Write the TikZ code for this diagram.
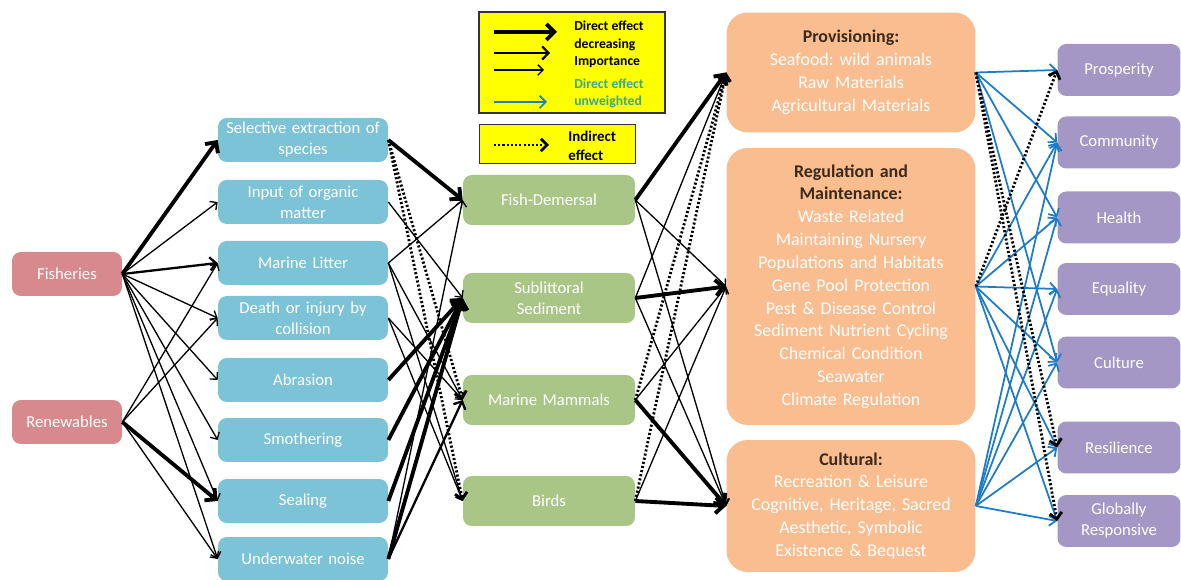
\documentclass[tikz,border=0pt]{standalone}
\usepackage{fontspec}
\setmainfont{Carlito}
\frenchspacing
\usetikzlibrary{arrows.meta,positioning}
\definecolor{hred}{HTML}{D8898D}
\definecolor{hblue}{HTML}{7DC3D7}
\definecolor{hgreen}{HTML}{A9C687}
\definecolor{horng}{HTML}{F9BD8F}
\definecolor{hpurp}{HTML}{A597C5}
\definecolor{hline}{HTML}{1E7BC6}
\definecolor{hteal}{HTML}{3CA88C}
\definecolor{hyell}{HTML}{FFFF00}
\definecolor{htitle}{HTML}{3B2A1C}

\begin{document}
\begin{tikzpicture}[x=0.02cm, y=-0.02cm]
  \useasboundingbox (0,0) rectangle (1181,580);

  \tikzset{
    box/.style = {rounded corners=5pt, text=white, align=center, inner sep=0pt,
                  font=\fontsize{9.5}{12}\selectfont},
    src/.style = {box, fill=hred, minimum width=2.2cm, minimum height=0.88cm},
    press/.style = {box, fill=hblue, minimum width=3.4cm, minimum height=0.88cm, text width=3.2cm},
    comp/.style = {box, fill=hgreen, minimum width=3.44cm, minimum height=1cm, text width=3.2cm},
    serv/.style = {box, fill=horng, rounded corners=12pt, minimum width=4.98cm, text width=4.7cm,
                   font=\fontsize{10.2}{13}\selectfont},
    well/.style = {box, fill=hpurp, minimum width=2.46cm, minimum height=1.04cm, text width=2.3cm},
    legbox/.style = {draw=black!80, line width=1pt, fill=hyell},
    legtxt/.style = {anchor=west, align=left, inner sep=0pt, font=\bfseries\fontsize{7.8}{10}\selectfont},
    thk/.style = {line width=2.2pt, -{Straight Barb[length=4.5pt, width=9pt]}},
    med/.style = {line width=1.3pt, -{Straight Barb[length=3.5pt, width=7.5pt]}},
    thn/.style = {line width=0.75pt, -{Straight Barb[length=3pt, width=6pt]}},
    ind/.style = {line width=1.6pt, dash pattern=on 1.2pt off 1.2pt, -{Straight Barb[length=3.5pt, width=7pt]}},
    blu/.style = {hline, line width=1pt, -{Straight Barb[length=3.5pt, width=7pt]}}
  }

  % Drivers
  \node[src] (fshr) at (67,274) {Fisheries};
  \node[src] (renw) at (67,422) {Renewables};

  % Pressures
  \foreach \nm/\y/\txt in {selx/140/{Selective extraction of\\species}, orgm/202/{Input of organic\\matter},
                           litt/263/{Marine Litter}, coll/318/{Death or injury by\\collision},
                           abra/380/{Abrasion}, smot/440/{Smothering}, seal/501/{Sealing},
                           nois/559/{Underwater noise}}
    \node[press] (\nm) at (303,\y) {\txt};

  % Ecosystem components
  \foreach \nm/\y/\txt in {dem/200/{Fish-Demersal}, sed/298/{Sublittoral\\Sediment},
                           mam/400/{Marine Mammals}, brd/501/{Birds}}
    \node[comp] (\nm) at (549,\y) {\txt};

  % Ecosystem services
  \node[serv, minimum height=2.4cm] (prov) at (851,72.5)
    {{\bfseries\color{htitle}Provisioning:}\\Seafood: wild animals\\Raw Materials\\Agricultural Materials};
  \node[serv, minimum height=5.54cm] (reg) at (851,286.5)
    {{\bfseries\color{htitle}Regulation and\\Maintenance:}\\Waste Related\\Maintaining Nursery\\Populations and Habitats\\
     Gene Pool Protection\\Pest \& Disease Control\\Sediment Nutrient Cycling\\Chemical Condition\\Seawater\\Climate Regulation};
  \node[serv, minimum height=2.64cm] (cul) at (851,506)
    {{\bfseries\color{htitle}Cultural:}\\Recreation \& Leisure\\Cognitive, Heritage, Sacred\\Aesthetic, Symbolic\\Existence \& Bequest};

  % Well-being
  \foreach \nm/\y/\txt in {prosp/70/{Prosperity}, comm/142.5/{Community}, health/217.5/{Health},
                           equal/289/{Equality}, culture/362.5/{Culture}, resil/447.5/{Resilience},
                           global/521/{Globally\\Responsive}}
    \node[well] (\nm) at (1119,\y) {\txt};

  % Legend
  \node[legbox, minimum width=3.72cm, minimum height=2.02cm] (legdir) at (572,62.5) {};
  \node[legbox, minimum width=3.12cm, minimum height=0.78cm] (legind) at (557.5,144) {};
  \node[legtxt] (legwt) at (574,44.5) {Direct effect\\decreasing\\Importance};
  \node[legtxt, text=hteal] (legun) at (574,93.5) {Direct effect\\unweighted};
  \node[legtxt, font=\bfseries\fontsize{8.5}{11}\selectfont] (legin) at (568,146) {Indirect\\effect};
  \foreach \i/\y/\len/\sty in {1/32/63/thk, 2/53/56/med, 3/70/50/thn, 4/102/53/blu, 5/145/55/ind}{
    \coordinate (lg\i) at (494,\y);
    \draw[\sty] (lg\i) -- ++(\len,0);
  }

  % Drivers -> pressures
  \foreach \a/\b/\s in {fshr/selx/thk, fshr/orgm/thn, fshr/litt/med, fshr/coll/thn, fshr/abra/thn,
                        fshr/smot/thn, fshr/seal/thn, fshr/nois/thn,
                        renw/litt/thn, renw/coll/thn, renw/seal/thk, renw/nois/thn}
    \draw[\s] (\a.east) -- (\b.west);

  % Pressures -> ecosystem components
  \foreach \a/\b/\s in {selx/dem/thk, selx/mam/ind, selx/brd/ind, orgm/sed/thn,
                        litt/dem/thn, litt/mam/thn, litt/brd/thn, coll/mam/thn, coll/brd/thn,
                        abra/sed/thk, smot/sed/thk, seal/sed/thk, nois/sed/thk, nois/mam/med, nois/dem/thn}
    \draw[\s] (\a.east) -- (\b.west);

  % Ecosystem components -> services
  \foreach \a/\b/\s in {dem/prov/thk, dem/reg/thn, dem/cul/thn, sed/reg/thk, sed/prov/thn, sed/cul/thn,
                        mam/cul/thk, mam/reg/thn, mam/prov/ind, brd/cul/thk, brd/reg/thn, brd/prov/ind}
    \draw[\s] (\a.east) -- (\b.west);

  % Services -> well-being
  \foreach \a/\b/\s in {prov/prosp/blu, prov/comm/blu, prov/health/blu, prov/culture/blu,
                        reg/comm/blu, reg/health/blu, reg/equal/blu, reg/culture/blu, reg/resil/blu, reg/global/blu,
                        cul/comm/blu, cul/health/blu, cul/equal/blu, cul/culture/blu, cul/resil/blu, cul/global/blu,
                        reg/prosp/ind, prov/resil/ind, prov/global/ind}
    \draw[\s] (\a.east) -- (\b.west);

\end{tikzpicture}
\end{document}
